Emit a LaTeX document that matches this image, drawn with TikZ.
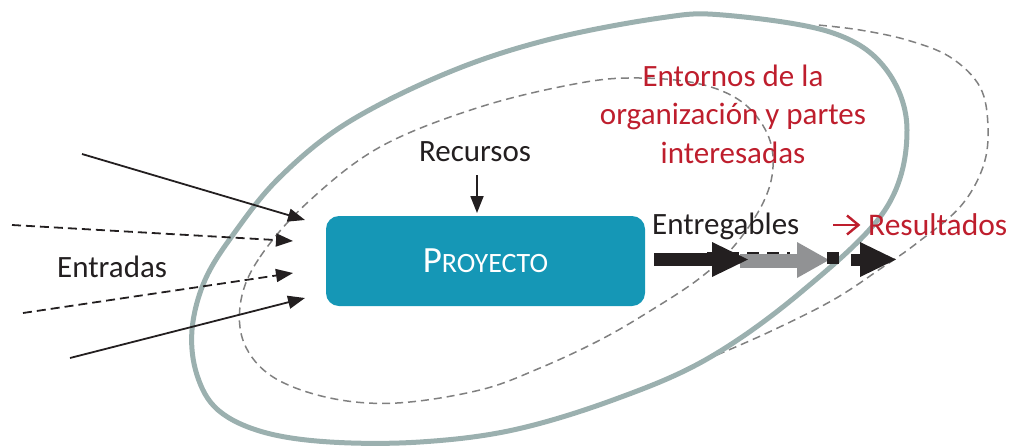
\documentclass[tikz,border=0pt]{standalone}
\usepackage{fontspec}
\setmainfont{Carlito}
\usetikzlibrary{arrows.meta}
\definecolor{ringgrey}{RGB}{155,176,175}
\definecolor{dashgrey}{RGB}{128,128,128}
\definecolor{projteal}{RGB}{21,151,182}
\definecolor{redtxt}{RGB}{190,30,45}
\definecolor{inkblack}{RGB}{35,31,32}
\definecolor{arrgrey}{RGB}{145,146,148}
\tikzset{
  ring/.style={draw=ringgrey, line width=5pt},
  dashring/.style={draw=dashgrey, line width=1.5pt, dash pattern=on 8pt off 5pt},
  inarrow/.style={draw=inkblack, line width=1.8pt, -{Triangle[length=17pt,width=13pt]}},
  indashed/.style={inarrow, dash pattern=on 9pt off 5pt},
  lbl/.style={font=\fontsize{31}{38.5}\selectfont, text=inkblack, inner sep=0pt},
  redlbl/.style={font=\fontsize{31}{38.5}\selectfont, text=redtxt, inner sep=0pt, align=center},
  projbox/.style={fill=projteal, rounded corners=13pt, minimum width=319pt, minimum height=90pt, inner sep=0pt, text=white},
  blk/.style={fill=inkblack},
  gry/.style={fill=arrgrey}
}
\begin{document}
\begin{tikzpicture}[x=1pt,y=-1pt]
\useasboundingbox (0,0) rectangle (1013,445);
% dashed environment shapes
\draw[dashring] plot[smooth cycle, tension=0.6] coordinates {(241,300) (260,257) (307,203) (380,147) (480,107) (580,83) (640,78) (700,84) (742,102) (767,133) (773,167) (763,203) (735,245) (700,278) (650,311) (600,340) (540,368) (480,390) (397,403) (330,398) (273,377) (244,343)};
\draw[dashring] plot[smooth, tension=0.6] coordinates {(705,360) (767,333) (833,300) (883,267) (917,243) (960,207) (983,167) (988,127) (980,87) (950,57) (907,40) (860,30) (818,25)};
% solid ring
\draw[ring] plot[smooth cycle, tension=0.6] coordinates {(192,330) (205,280) (235,232) (280,177) (347,123) (447,73) (547,40) (660,18) (723,15) (830,32) (885,68) (907,130) (885,210) (800,293) (707,359) (613,400) (513,430) (420,442) (330,442) (263,432) (218,410) (197,375)};
% project box
\node[projbox] (proj) at (485.5,261) {\fontsize{37}{37}\selectfont P\fontsize{28}{28}\selectfont ROYECTO};
% labels
\node[lbl, anchor=base] (rec) at (475,161) {Recursos};
\node[lbl, anchor=base west] (ent) at (57,277) {Entradas};
\node[lbl, anchor=base west] (entr) at (652,234) {Entregables};
\node[redlbl, anchor=base west, font=\fontsize{31.5}{38.5}\selectfont] (res) at (868,235) {Resultados};
\node[redlbl, anchor=base] (env) at (733,163) {Entornos de la\\organización y partes\\interesadas};
% recursos arrow
\coordinate (recA) at (477,175);
\coordinate (recB) at (477,213);
\draw[inarrow] (recA) -- (recB);
% entradas arrows
\coordinate (e1s) at (82,154);  \coordinate (e1t) at (305,220);
\coordinate (e2s) at (12,225);  \coordinate (e2t) at (293,241);
\coordinate (e3s) at (23,313);  \coordinate (e3t) at (293,273);
\coordinate (e4s) at (70,358);  \coordinate (e4t) at (305,298);
\draw[inarrow] (e1s) -- (e1t);
\draw[indashed] (e2s) -- (e2t);
\draw[indashed] (e3s) -- (e3t);
\draw[inarrow] (e4s) -- (e4t);
% entregables -> resultados arrows
\draw[draw=inkblack, line width=3pt, dash pattern=on 12pt off 8pt] (707,253) -- (790,253);
\fill[gry] (740,254) rectangle (798,268);
\fill[gry] (797,242) -- (829,260) -- (797,278) -- cycle;
\fill[blk] (654,253) rectangle (714,266);
\fill[blk] (712,242) -- (748,259.5) -- (712,277) -- cycle;
\fill[blk] (827,252) rectangle (839,264);
\fill[blk] (851,254) rectangle (861,266);
\fill[blk] (860,242) -- (896,259.5) -- (860,277) -- cycle;
% red small arrow
\draw[draw=redtxt, line width=2.4pt] (833,225) -- (858,225);
\draw[draw=redtxt, line width=2.4pt, line join=miter] (847,215.5) -- (858.5,225) -- (847,234.5);
\end{tikzpicture}
\end{document}
